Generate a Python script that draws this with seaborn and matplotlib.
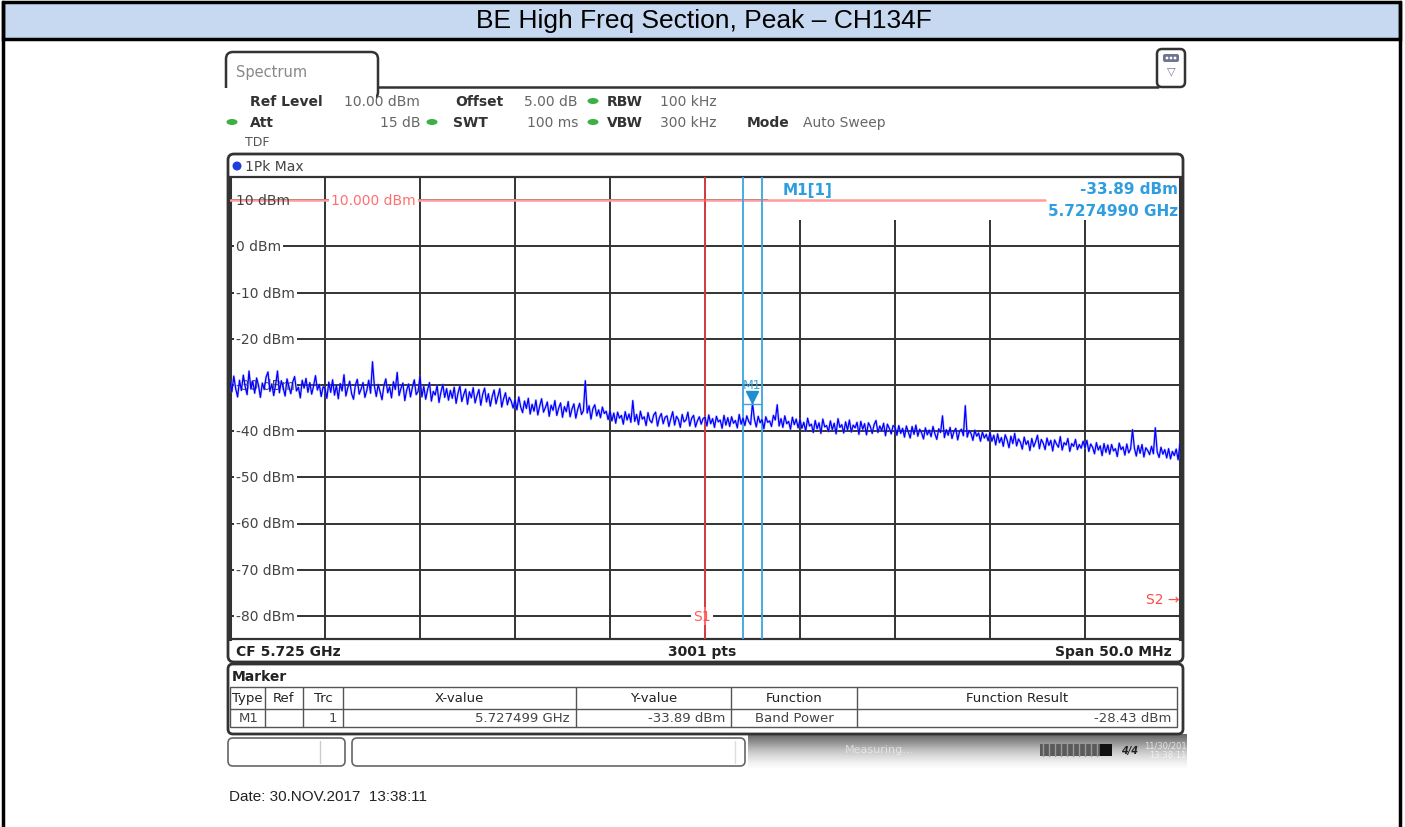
import numpy as np
import pandas as pd
import seaborn as sns
import matplotlib.pyplot as plt
from matplotlib.patches import Rectangle, FancyBboxPatch, Ellipse, Circle

W, H = 1405, 828

title = "BE High Freq Section, Peak \u2013 CH134F"

# trace level (dBm), 0.1 MHz steps, one list per 5 MHz grid division
div1 = [-29.3, -31.5, -28.1, -30.8, -32.6, -29.0, -31.2, -27.9, -30.4, -32.1,
        -27.0, -30.9, -29.2, -31.8, -28.5, -30.1, -32.7, -29.6, -31.0, -28.3,
        -27.2, -31.4, -29.8, -32.3, -30.0, -27.0, -31.7, -29.1, -30.6, -32.4,
        -28.7, -30.3, -31.9, -29.4, -28.2, -31.3, -30.5, -32.8, -29.0, -30.7,
        -28.6, -31.6, -29.5, -32.0, -30.2, -28.0, -31.1, -29.9, -32.5, -30.4]
div2 = [-30.8, -32.9, -29.4, -31.6, -28.9, -32.2, -30.1, -33.0, -29.7, -31.3,
        -27.8, -32.4, -30.6, -29.2, -31.9, -33.1, -30.0, -28.8, -32.0, -30.9,
        -29.5, -32.7, -31.2, -29.0, -31.8, -25.0, -30.3, -32.5, -29.9, -31.5,
        -33.2, -30.2, -28.7, -31.7, -30.4, -32.8, -29.3, -31.0, -27.3, -32.3,
        -30.7, -29.6, -33.4, -31.1, -29.8, -32.6, -30.5, -28.9, -32.1, -31.4]
div3 = [-28.2, -32.6, -30.3, -33.1, -31.0, -29.5, -33.5, -31.4, -32.2, -30.1,
        -33.8, -31.6, -29.9, -32.7, -30.8, -33.3, -31.2, -32.9, -30.5, -34.0,
        -31.8, -30.2, -33.6, -32.1, -30.9, -34.2, -31.5, -32.8, -30.6, -33.9,
        -32.3, -31.0, -34.4, -32.0, -30.7, -33.7, -31.9, -34.6, -32.5, -31.1,
        -34.1, -32.4, -30.8, -34.8, -33.0, -31.7, -34.3, -32.7, -33.5, -35.0]
div4 = [-33.2, -35.4, -32.6, -34.8, -36.0, -33.5, -35.1, -32.9, -36.3, -34.2,
        -35.7, -33.3, -36.5, -34.6, -33.0, -35.9, -34.9, -33.7, -36.8, -34.4,
        -35.5, -33.4, -36.6, -35.0, -33.9, -37.0, -34.7, -35.8, -33.6, -36.9,
        -35.2, -34.1, -37.2, -35.3, -34.0, -36.4, -35.6, -29.1, -36.1, -34.5,
        -37.4, -35.1, -34.3, -36.7, -35.4, -37.1, -34.8, -36.2, -35.7, -37.5]
div5 = [-35.6, -37.8, -36.1, -38.3, -35.9, -37.2, -36.6, -38.5, -35.8, -37.6,
        -36.3, -38.1, -33.4, -37.9, -36.4, -38.6, -35.7, -37.4, -36.9, -38.8,
        -36.0, -37.7, -38.2, -36.5, -35.9, -38.9, -37.1, -36.2, -38.4, -37.0,
        -36.7, -39.0, -37.3, -35.8, -38.7, -36.8, -37.5, -39.2, -36.4, -38.0,
        -37.6, -35.9, -38.9, -37.2, -36.6, -39.1, -37.8, -36.9, -38.5, -37.3]
div6 = [-37.0, -38.9, -36.5, -38.4, -37.3, -39.2, -36.8, -38.0, -37.6, -39.4,
        -36.6, -38.7, -37.1, -39.0, -36.9, -38.3, -37.7, -39.3, -36.4, -38.5,
        -37.2, -38.8, -36.7, -37.9, -38.6, -33.9, -37.4, -39.1, -36.8, -38.2,
        -37.5, -39.5, -36.9, -38.1, -37.8, -39.0, -36.6, -37.6, -34.3, -38.9,
        -37.3, -39.2, -36.7, -38.4, -37.9, -39.6, -37.0, -38.6, -37.4, -39.3]
div7 = [-37.5, -39.4, -38.1, -40.0, -37.2, -38.9, -38.5, -40.3, -37.7, -39.5,
        -38.2, -40.5, -37.4, -39.1, -38.8, -40.1, -37.8, -39.7, -38.3, -40.6,
        -37.3, -39.2, -38.6, -40.4, -38.0, -39.8, -37.6, -40.2, -38.7, -39.3,
        -38.1, -40.7, -37.9, -39.6, -38.4, -40.8, -38.2, -39.0, -40.5, -38.6,
        -37.7, -40.3, -38.9, -39.9, -38.3, -41.0, -38.5, -39.4, -40.6, -38.8]
div8 = [-39.1, -40.9, -38.8, -40.5, -39.4, -41.3, -38.9, -40.2, -41.5, -39.0,
        -40.7, -38.7, -41.1, -39.6, -40.4, -41.7, -39.3, -40.8, -39.8, -41.2,
        -39.0, -40.6, -41.8, -39.5, -40.3, -36.7, -41.4, -39.7, -40.9, -39.2,
        -41.6, -40.1, -39.4, -41.9, -40.0, -39.6, -41.0, -34.5, -41.3, -39.9,
        -40.5, -42.0, -39.8, -41.1, -40.4, -42.2, -40.2, -41.5, -40.7, -42.1]
div9 = [-40.3, -42.2, -40.9, -43.0, -40.6, -42.5, -41.4, -43.3, -40.8, -41.9,
        -43.6, -41.1, -42.7, -40.5, -43.2, -41.7, -42.4, -43.9, -41.3, -42.9,
        -42.1, -44.2, -41.6, -43.4, -42.3, -40.9, -43.8, -41.8, -42.6, -44.0,
        -41.5, -43.1, -42.0, -44.3, -41.9, -42.8, -43.5, -41.2, -44.1, -42.5,
        -43.0, -41.6, -44.4, -42.7, -43.3, -41.8, -44.0, -42.9, -43.7, -42.2]
div10 = [-43.6, -42.0, -44.4, -42.8, -43.5, -44.9, -42.5, -44.1, -43.2, -45.3,
         -42.7, -44.6, -43.0, -45.0, -42.9, -44.3, -43.8, -45.5, -42.6, -44.0,
         -43.4, -45.2, -42.8, -44.7, -43.9, -39.7, -43.7, -45.4, -43.1, -44.8,
         -42.9, -45.6, -43.6, -44.2, -45.1, -43.3, -44.9, -39.3, -44.5, -45.7,
         -43.5, -45.0, -44.0, -45.8, -43.8, -46.0, -44.4, -45.3, -43.9, -46.2, -42.6]
trace_dbm = div1 + div2 + div3 + div4 + div5 + div6 + div7 + div8 + div9 + div10

f_start, f_stop = 5.700, 5.750          # CF 5.725 GHz, span 50 MHz
freq_ghz = np.linspace(f_start, f_stop, len(trace_dbm))
y_top, y_bot = 15, -85
level_ticks = [10, 0, -10, -20, -30, -40, -50, -60, -70, -80]
freq_grid = [5.705, 5.710, 5.715, 5.720, 5.725, 5.730, 5.735, 5.740, 5.745]
display_line = 10.0
s1_freq = 5.725
band_lo, band_hi = 5.727, 5.728
marker_freq, marker_level = 5.727499, -33.89

table_head = ["Type", "Ref", "Trc", "X-value", "Y-value", "Function", "Function Result"]
table_row = ["M1", "", "1", "5.727499 GHz", "-33.89 dBm", "Band Power", "-28.43 dBm"]

sns.set_style("white")
plt.rcParams["font.family"] = ["DejaVu Sans"]

# plot area in pixels
PX0, PX1, PY0, PY1 = 230, 1180, 178, 640


def fx(px):
    return f_start + (px - PX0) / (PX1 - PX0) * (f_stop - f_start)


def fy(py):
    return y_top - (py - PY0) / (PY1 - PY0) * (y_top - y_bot)


fig = plt.figure(figsize=(W / 100, H / 100), dpi=100)
bg = fig.add_axes([0, 0, 1, 1])
bg.set_xlim(0, W)
bg.set_ylim(H, 0)
bg.axis("off")


def box(x0, y0, x1, y1, r=0, **kw):
    if r:
        p = FancyBboxPatch((x0, y0), x1 - x0, y1 - y0,
                           boxstyle=f"round,pad=0,rounding_size={r}", **kw)
    else:
        p = Rectangle((x0, y0), x1 - x0, y1 - y0, **kw)
    bg.add_patch(p)


def txt(x, y, s, ha="left", size=10, color="#333333", weight="normal", **kw):
    bg.text(x, y, s, ha=ha, va="center", fontsize=size, color=color, fontweight=weight, **kw)


# document table cell with the heading
box(3, 3, 1400, 40, fc="#c6d9f1", ec="black", lw=2.5)
bg.plot([3, 3], [3, H], color="black", lw=2.5)
bg.plot([1400, 1400], [3, H], color="black", lw=2.5)
bg.text(704, 21, title, ha="center", va="center", fontsize=19, family="Liberation Sans", color="black")

# tab + top line
box(226, 53, 378, 100, r=7, fc="white", ec="#333333", lw=1.8)
box(222, 89, 376, 104, fc="white", ec="none", zorder=3)
bg.plot([378, 1158], [88, 88], color="#333333", lw=1.8)
txt(236, 72, "Spectrum", size=10.5, color="#888888")
box(1157, 50, 1185, 88, r=5, fc="white", ec="#333333", lw=1.8)
box(1163, 55, 1179, 63, r=2, fc="#6e7591", ec="none")
for dx in (1167, 1171, 1175):
    bg.add_patch(Circle((dx, 59), 1.4, fc="white", ec="none"))
txt(1171, 71, "\u25bd", ha="center", size=8, color="#6e7591")

# settings block
green = "#3cb043"
for cx, cy in [(593, 102), (232, 123), (432, 123), (593, 123)]:
    bg.add_patch(Ellipse((cx, cy), 11, 6, fc=green, ec="none"))
txt(250, 102, "Ref Level", weight="bold")
txt(420, 102, "10.00 dBm", ha="right", color="#666666")
txt(455, 102, "Offset", weight="bold")
txt(578, 102, "5.00 dB", ha="right", color="#666666")
txt(607, 102, "RBW", weight="bold")
txt(660, 102, "100 kHz", color="#666666")
txt(250, 123, "Att", weight="bold")
txt(420, 123, "15 dB", ha="right", color="#666666")
txt(453, 123, "SWT", weight="bold")
txt(578, 123, "100 ms", ha="right", color="#666666")
txt(607, 123, "VBW", weight="bold")
txt(660, 123, "300 kHz", color="#666666")
txt(747, 123, "Mode", weight="bold")
txt(803, 123, "Auto Sweep", color="#666666")
txt(245, 142, "TDF", size=9, color="#555555")

# diagram frame, trace label, bottom bar
box(228, 155, 1183, 663, r=6, fc="white", ec="#333333", lw=2)
bg.add_patch(Circle((237, 167), 4.5, fc="#1f3fdb", ec="none"))
txt(245, 167, "1Pk Max", color="#444444")
txt(236, 652, "CF 5.725 GHz", weight="bold", color="#222222")
txt(702, 652, "3001 pts", ha="center", weight="bold", color="#222222")
txt(1172, 652, "Span 50.0 MHz", ha="right", weight="bold", color="#222222")

# marker table
box(228, 665, 1183, 735, r=5, fc="white", ec="#333333", lw=2)
txt(232, 677, "Marker", weight="bold", color="#222222")
cols = [230, 265, 303, 343, 576, 731, 857, 1177]
box(cols[0], 688, cols[-1], 728, fc="white", ec="#555555", lw=1)
bg.plot([cols[0], cols[-1]], [710, 710], color="#555555", lw=1)
for c in cols[1:-1]:
    bg.plot([c, c], [688, 728], color="#555555", lw=1)
for i, name in enumerate(table_head):
    txt((cols[i] + cols[i + 1]) / 2, 699, name, ha="center", size=9.5, color="#222222")
for i, val in enumerate(table_row):
    if val == "Band Power":
        txt((cols[i] + cols[i + 1]) / 2, 719, val, ha="center", size=9.5, color="#444444")
    elif val:
        txt(cols[i + 1] - 6, 719, val, ha="right", size=9.5, color="#444444")

# status bar
box(228, 739, 345, 767, r=5, fc="white", ec="#666666", lw=1.2)
bg.plot([320, 320], [742, 764], color="#cccccc", lw=1)
box(352, 739, 745, 767, r=5, fc="white", ec="#666666", lw=1.2)
bg.plot([735, 735], [742, 764], color="#dddddd", lw=1)
grad = np.linspace(0, 1, 40).reshape(-1, 1)
bg.imshow(grad, extent=(748, 1187, 770, 735), cmap="Greys_r", vmin=-0.5, vmax=1.0, aspect="auto")
txt(845, 750, "Measuring...", size=8, color="white", alpha=0.55)
box(1040, 745, 1100, 757, fc="#5a5a5a", ec="none")
for sx in range(1043, 1100, 6):
    bg.plot([sx, sx], [745, 757], color="#9a9a9a", lw=1)
box(1100, 745, 1112, 757, fc="#111111", ec="none")
txt(1130, 751, "4/4", ha="center", size=7, color="#222222", weight="bold", style="italic")
txt(1168, 746, "11/30/2017", ha="center", size=6, color="white", alpha=0.7)
txt(1168, 756, "13:38:11", ha="center", size=6, color="white", alpha=0.7)

bg.text(229, 797, "Date: 30.NOV.2017  13:38:11", ha="left", va="center", fontsize=11,
        family="Liberation Sans", color="#222222")

# spectrum diagram
ax = fig.add_axes([PX0 / W, 1 - PY1 / H, (PX1 - PX0) / W, (PY1 - PY0) / H])
ax.set_zorder(2)
ax.set_facecolor("white")
for g in freq_grid:
    ax.axvline(g, color="#333333", lw=1.4, zorder=1)
for t in level_ticks:
    ax.axhline(t, color="#333333", lw=1.4, zorder=1)
ax.add_patch(Rectangle((fx(768), fy(221)), f_stop - fx(768), y_top - fy(221), fc="white", ec="none", zorder=2))
ax.plot([f_start, fx(1045)], [display_line, display_line], color="#ff9c9c", lw=1.8, zorder=3)
for t in level_ticks:
    box_kw = dict(fc="white", ec="none", pad=1.5) if t != 10 else None
    ax.text(fx(236), t, f"{t} dBm", ha="left", va="center", fontsize=10, color="#444444",
            bbox=box_kw, zorder=4)
ax.text(fx(331), display_line, "10.000 dBm", ha="left", va="center", fontsize=10, color="#ff6f6f",
        bbox=dict(fc="white", ec="none", pad=1.5), zorder=4)
ax.text(fx(702), fy(617), "S1", ha="center", va="center", fontsize=10, color="#ff5a5a",
        bbox=dict(fc="white", ec="none", pad=1.5), zorder=4)
ax.text(fx(1179), fy(600), "S2 \u2192", ha="right", va="center", fontsize=10, color="#ff4a4a", zorder=4)
ax.axvline(s1_freq, color="#ff4040", lw=1.1, zorder=5)
for b in (band_lo, band_hi):
    ax.axvline(b, color="#3aa6e0", lw=1.3, zorder=5)

df = pd.DataFrame({"freq": freq_ghz, "level": trace_dbm})
sns.lineplot(data=df, x="freq", y="level", ax=ax, color="#7f7fff", lw=1.8, alpha=0.4,
             estimator=None, zorder=6)
sns.lineplot(data=df, x="freq", y="level", ax=ax, color="#0000ff", lw=0.9,
             estimator=None, zorder=7)

ax.plot([band_lo, band_hi], [marker_level - 0.2, marker_level - 0.2], color="#3aa6e0", lw=1, zorder=8)
ax.plot([marker_freq], [marker_level + 1.3], marker="v", ms=8, color="#1e8fd0", zorder=9)
ax.text(marker_freq, fy(386), "M1", ha="center", va="center", fontsize=9, color="#3aa6e0", zorder=9)
ax.text(fx(783), fy(190), "M1[1]", ha="left", va="center", fontsize=11, fontweight="bold",
        color="#2e9ee0", zorder=9)
ax.text(fx(1178), fy(190), f"{marker_level:.2f} dBm", ha="right", va="center", fontsize=11,
        fontweight="bold", color="#2e9ee0", zorder=9)
ax.text(fx(1178), fy(211), f"{marker_freq:.7f} GHz", ha="right", va="center", fontsize=11,
        fontweight="bold", color="#2e9ee0", zorder=9)

ax.set_xlim(f_start, f_stop)
ax.set_ylim(y_bot, y_top)
ax.set_xticks([])
ax.set_yticks([])
ax.set(xlabel=None, ylabel=None)
for side in ("left", "right"):
    ax.spines[side].set_color("#333333")
    ax.spines[side].set_linewidth(2.2)
for side in ("top", "bottom"):
    ax.spines[side].set_color("#333333")
    ax.spines[side].set_linewidth(1.6)

fig.savefig("out.png", dpi=100)
